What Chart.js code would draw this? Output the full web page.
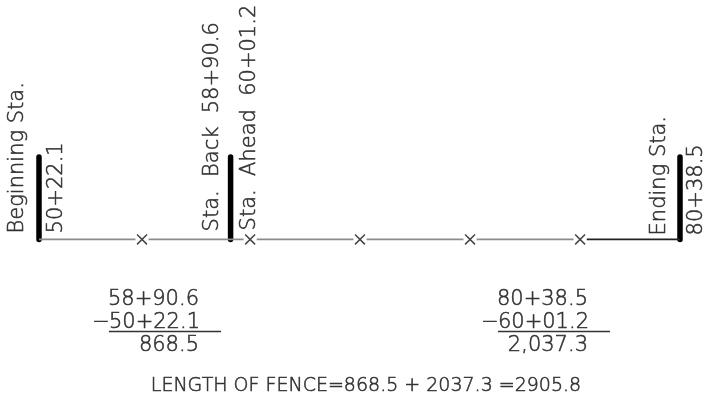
<!DOCTYPE html>
<html><head><meta charset="utf-8">
<script src="https://cdn.jsdelivr.net/npm/chart.js@4/dist/chart.umd.min.js"></script>
<style>html,body{margin:0;padding:0;background:#fff}</style>
</head><body>
<canvas id="c" width="711" height="406"></canvas>
<script>
// ---- data ----
const stationNames  = ['Beginning Sta.', 'Sta.  Back', 'Sta.  Ahead', 'Ending Sta.'];
const stationLabels = ['50+22.1', '58+90.6', '60+01.2', '80+38.5'];
const stationValues = [5022.1, 5890.6, 6001.2, 8038.5];       // feet
const barDistances  = [0, 868.5, 2905.8];                      // distance along fence (ft)
const segmentLengths = [868.5, 2037.3];
const totalLength   = 2905.8;
const markerDistances = [467, 957, 1455, 1954, 2453];          // fence "x" markers (ft)

// ---- build datasets ----
const GAP = 30;           // gap in line around an x marker (ft)
const BAR_TOP = 86;       // vertical drawing units
const grayPts = [{x: 0, y: 0}];
markerDistances.forEach((d, i) => {
  grayPts.push({x: d - GAP, y: 0});
  if (i < markerDistances.length - 1) {
    grayPts.push({x: d, y: null});
    grayPts.push({x: d + GAP, y: 0});
  }
});
const lastM = markerDistances[markerDistances.length - 1];
const blackPts = [{x: lastM + GAP, y: 0}, {x: totalLength, y: 0}];
const barPts = [];
barDistances.forEach((d, i) => {
  if (i) barPts.push({x: d, y: null});
  barPts.push({x: d, y: 0}, {x: d, y: BAR_TOP});
});
const markerPts = markerDistances.map(d => ({x: d, y: 0}));

function fmt(v, comma) {
  return comma ? v.toLocaleString('en-US', {minimumFractionDigits: 1, maximumFractionDigits: 1})
               : v.toFixed(1);
}

const FONT = '"DejaVu Sans"';
const TXT = '#333';

const textPlugin = {
  id: 'drawingText',
  afterDatasetsDraw(chart) {
    const ctx = chart.ctx;
    const xs = chart.scales.x, ys = chart.scales.y;
    const y0 = ys.getPixelForValue(0);
    ctx.save();
    ctx.fillStyle = TXT;
    ctx.strokeStyle = TXT;
    ctx.font = '300 21px ' + FONT;
    function txt(str, x, y) {
      ctx.lineWidth = 0.55;
      ctx.fillText(str, x, y);
      ctx.strokeText(str, x, y);
    }
    function vtext(str, px, py) {
      ctx.save();
      ctx.translate(px, py);
      ctx.rotate(-Math.PI / 2);
      ctx.textAlign = 'left';
      ctx.textBaseline = 'middle';
      txt(str, 0, 0);
      ctx.restore();
    }
    const b0 = xs.getPixelForValue(barDistances[0]);
    const b1 = xs.getPixelForValue(barDistances[1]);
    const b2 = xs.getPixelForValue(barDistances[2]);
    vtext(stationNames[0], b0 - 21, y0 - 6);
    vtext(stationLabels[0], b0 + 18, y0 - 6);
    vtext(stationNames[1] + '  ' + stationLabels[1], b1 - 18, y0 - 8);
    vtext(stationNames[2] + '  ' + stationLabels[2], b1 + 19, y0 - 9);
    vtext(stationNames[3], b2 - 20, y0 - 4);
    vtext(stationLabels[3], b2 + 17, y0 - 4);

    // arithmetic blocks
    function block(top, bottom, result, rightX) {
      ctx.textAlign = 'right';
      ctx.textBaseline = 'alphabetic';
      txt(top, rightX, 305);
      txt(bottom, rightX + 1, 328);
      const w = ctx.measureText(bottom).width;
      txt('\u2212', rightX + 1 - w + 1, 328);
      txt(result, rightX, 351);
      // underline
      ctx.lineWidth = 1.3;
      ctx.beginPath();
      const left = rightX + 1 - w;
      ctx.moveTo(left, 331.5);
      ctx.lineTo(rightX + 22, 331.5);
      ctx.stroke();
    }
    block(stationLabels[1], stationLabels[0], fmt(segmentLengths[0], true), 199);
    block(stationLabels[3], stationLabels[2], fmt(segmentLengths[1], true), 588);

    ctx.textAlign = 'center';
    ctx.font = '300 19px ' + FONT;
    txt('LENGTH OF FENCE=' + fmt(segmentLengths[0]) + ' + ' + fmt(segmentLengths[1]) +
        ' =' + fmt(totalLength), 366, 391);
    ctx.restore();
  }
};

new Chart(document.getElementById('c'), {
  type: 'scatter',
  data: {
    datasets: [
      {data: grayPts, showLine: true, spanGaps: false, borderColor: '#8c8c8c', borderWidth: 1.6,
       pointRadius: 0, clip: false},
      {data: blackPts, showLine: true, borderColor: '#222', borderWidth: 1.6, pointRadius: 0, clip: false},
      {data: barPts, showLine: true, spanGaps: false, borderColor: '#000', borderWidth: 5.5,
       borderCapStyle: 'round', pointRadius: 0, clip: false},
      {data: markerPts, showLine: false, pointStyle: 'crossRot', pointRadius: 7, pointBorderWidth: 1.5,
       borderColor: '#444', pointBorderColor: '#444', clip: false}
    ]
  },
  options: {
    responsive: false,
    animation: false,
    events: [],
    layout: {padding: {left: 39, right: 31, top: 0, bottom: 0}},
    scales: {
      x: {type: 'linear', min: 0, max: totalLength, display: false},
      y: {type: 'linear', min: -165, max: 241, display: false}
    },
    plugins: {legend: {display: false}, tooltip: {enabled: false}}
  },
  plugins: [textPlugin]
});
</script>
</body></html>
